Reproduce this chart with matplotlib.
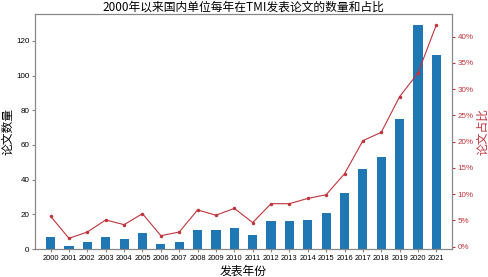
import matplotlib.pyplot as plt
from matplotlib.ticker import PercentFormatter
import numpy as np

plt.rcParams['font.family'] = ['Noto Sans CJK SC', 'DejaVu Sans']

# 数据
years = [str(y) for y in range(2000, 2022)]
paper_counts = [7, 2, 4, 7, 6, 9, 3, 4, 11, 11, 12, 8, 16, 16, 17, 21, 32, 46, 53, 75, 129, 112]
paper_share = [5.8, 1.6, 2.8, 5.1, 4.2, 6.3, 2.1, 2.8, 7.0, 6.0, 7.3, 4.6,
               8.2, 8.2, 9.2, 9.9, 13.9, 20.2, 21.8, 28.6, 33.1, 42.3]

bar_color = '#1f77b4'
line_color = '#c0343c'
spine_color = '#888888'
tick_font = ['Liberation Sans', 'DejaVu Sans']

fig = plt.figure(figsize=(4.88, 2.77), dpi=100)
ax = fig.add_axes([35 / 488, 28 / 277, 417 / 488, 235 / 277])

x = np.arange(len(years))
ax.bar(x, paper_counts, width=0.5, color=bar_color)
ax.set_xlim(-0.85, len(years) - 1 + 0.85)
ax.set_xticks(x)
ax.set_xticklabels(years, family=tick_font, fontsize=5.4)
ax.tick_params(axis='y', labelsize=5.8, length=2.5, color=spine_color, pad=1.5)
ax.tick_params(axis='x', length=2.5, color=spine_color, pad=1.5)
for lab in ax.get_yticklabels():
    lab.set_family(tick_font)
ax.set_ylabel('论文数量', fontsize=8.5, labelpad=1)
ax.set_xlabel('发表年份', fontsize=8.5, labelpad=2)
ax.set_title('2000年以来国内单位每年在TMI发表论文的数量和占比', fontsize=8.5, pad=2)

ax2 = ax.twinx()
ax2.plot(x, paper_share, color=line_color, linewidth=0.8, marker='o', markersize=1.5)
ax2.yaxis.set_major_formatter(PercentFormatter(100, decimals=0))
ax2.set_yticks(np.arange(0, 45, 5))
ax2.tick_params(axis='y', labelsize=5.8, length=2.5, colors=line_color, pad=1.5)
for lab in ax2.get_yticklabels():
    lab.set_family(tick_font)
ax2.set_ylabel('论文占比', fontsize=8.5, color=line_color, labelpad=2)

for a in (ax, ax2):
    for s in a.spines.values():
        s.set_color(spine_color)
        s.set_linewidth(0.8)

fig.savefig('out.png', dpi=100)
